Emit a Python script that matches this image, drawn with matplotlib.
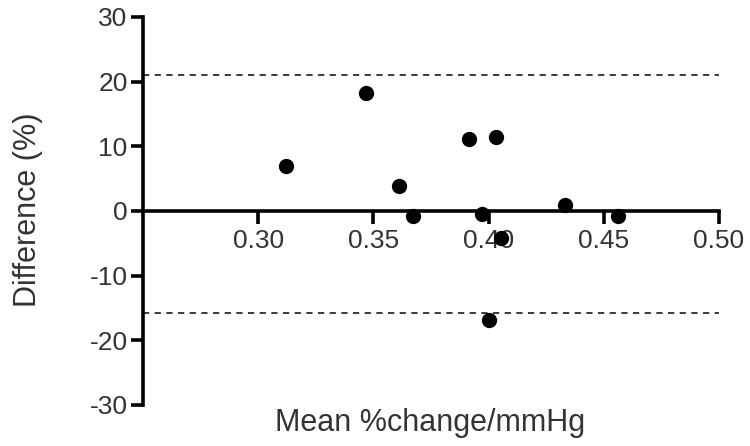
import matplotlib
matplotlib.use("Agg")
from matplotlib import pyplot as plt

plt.rcParams['font.family'] = ['Liberation Sans', 'DejaVu Sans']
plt.rcParams['axes.unicode_minus'] = False

# mean %change/mmHg of the two methods and their difference (%)
mean_change = [0.312, 0.347, 0.361, 0.367, 0.3915, 0.397, 0.4003, 0.4033, 0.4053, 0.4332, 0.4563]
difference = [6.9, 18.3, 3.9, -0.8, 11.2, -0.4, -16.9, 11.4, -4.2, 0.9, -0.8]

# limits of agreement
upper_loa = 21.1
lower_loa = -15.7

x_ticks = [0.30, 0.35, 0.40, 0.45, 0.50]
y_ticks = [-30, -20, -10, 0, 10, 20, 30]

fig = plt.figure(figsize=(7.5, 4.46), dpi=100)
ax = fig.add_axes([143 / 750, 1 - 405 / 446, 576 / 750, 388 / 446])

ax.set_xlim(0.25, 0.50)
ax.set_ylim(-30, 30)

ax.hlines([upper_loa, lower_loa], 0.25, 0.50, colors='#3a3a3a',
          linewidth=1.4, linestyles=(0, (3.2, 2.8)), zorder=1)

ax.plot(mean_change, difference, 'o', color='black', markersize=11,
        markeredgewidth=0, zorder=3, clip_on=False)

# axis spines: y axis on the left, x axis through zero
for side in ('top', 'right'):
    ax.spines[side].set_visible(False)
ax.spines['bottom'].set_position(('data', 0))
for side in ('left', 'bottom'):
    ax.spines[side].set_linewidth(2.6)
    ax.spines[side].set_color('black')
    ax.spines[side].set_capstyle('projecting')

ax.set_xticks(x_ticks)
ax.set_xticklabels([f'{t:.2f}' for t in x_ticks])
ax.set_yticks(y_ticks)
ax.tick_params(axis='both', direction='out', width=2.6, length=9,
               color='black', labelsize=19, labelcolor='#333333')
ax.tick_params(axis='x', pad=4)
ax.tick_params(axis='y', pad=2)

fig.text(430 / 750, 1 - 423 / 446, 'Mean %change/mmHg', ha='center', va='center',
         fontsize=22, color='#333333')
fig.text(28 / 750, 1 - 210 / 446, 'Difference (%)', ha='center', va='center',
         rotation=90, fontsize=22, color='#333333')

fig.savefig('out.png', dpi=100)
